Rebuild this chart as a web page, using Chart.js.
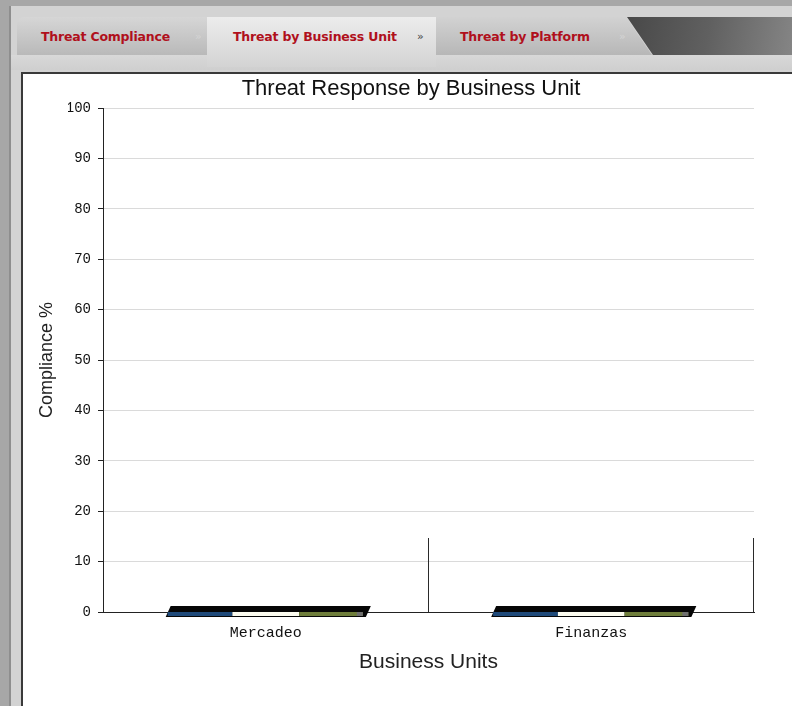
<!DOCTYPE html>
<html>
<head>
<meta charset="utf-8">
<script src="https://cdn.jsdelivr.net/npm/chart.js@4/dist/chart.umd.min.js"></script>
<style>
  html, body { margin: 0; padding: 0; }
  body { width: 792px; height: 706px; background: #a7a7a7; position: relative; overflow: hidden; font-family: "DejaVu Sans", sans-serif; }
  #frame { position: absolute; left: 9px; top: 6px; right: 0; bottom: 0; background: #d3d3d3; border-left: 2px solid #8e8e8e; }
  .tab { position: absolute; top: 11px; height: 38px; box-sizing: border-box; font-weight: bold; font-size: 12.5px; color: #b0101c; line-height: 40px; white-space: nowrap; letter-spacing: -0.2px; }
  .tab .chev { position: absolute; font-size: 11px; color: #d4d4d4; font-weight: normal; }
  #t1 { left: 6px; width: 190px; background: linear-gradient(#d6d6d6, #b9b9b9); border-top-left-radius: 7px; padding-left: 24px; }
  #t2 { left: 196px; width: 229px; height: 50px; background: linear-gradient(#ececec, #d3d3d3); padding-left: 26px; }
  #t3 { left: 425px; width: 216px; background: linear-gradient(#d2d2d2, #b7b7b7); padding-left: 24px; clip-path: polygon(0 0, 190px 0, 216px 100%, 0 100%); }
  #dark { position: absolute; left: 612px; top: 11px; right: 0; height: 38px; background: linear-gradient(100deg, #474747, #606060 50%, #858585); clip-path: polygon(4px 0, 100% 0, 100% 100%, 30px 100%); }
  #strip { position: absolute; left: 0; right: 0; top: 49px; height: 15px; background: linear-gradient(#d8d8d8, #cfcfcf); }
  #panel { position: absolute; left: 21px; top: 72px; width: 771px; height: 634px; background: #fff; border-left: 2px solid #3a3a3a; border-top: 2px solid #3a3a3a; box-sizing: border-box; }
  #wrap { position: absolute; left: 23px; top: 74px; width: 769px; height: 632px; }
</style>
</head>
<body>
<div id="frame">
  <div id="dark"></div>
  <div class="tab" id="t1">Threat Compliance<span class="chev" style="left:178px">»</span></div>
  <div class="tab" id="t3">Threat by Platform<span class="chev" style="left:183px">»</span></div>
  <div id="strip"></div>
  <div class="tab" id="t2">Threat by Business Unit<span class="chev" style="left:210px;color:#444">»</span></div>
</div>
<div id="panel"></div>
<div id="wrap"><canvas id="chart"></canvas></div>
<script>
// Compliance by business unit, one series per response state
const units      = ['Mercadeo', 'Finanzas'];
const seriesA    = [0, 0];
const seriesB    = [0, 0];
const seriesC    = [0, 0];
const yTicks     = [0, 10, 20, 30, 40, 50, 60, 70, 80, 90, 100];

const SLAB_COLORS = ['#1f4a7a', '#fbfbef', '#6e7d3a'];

// Flat 3D slabs under each bar group, plus the short separators between units
const slabPlugin = {
  id: 'slabs',
  afterDatasetsDraw(chart) {
    const ctx  = chart.ctx;
    const xs   = chart.scales.x;
    const base = chart.scales.y.getPixelForValue(0);
    const metas = chart.getSortedVisibleDatasetMetas();
    ctx.save();

    units.forEach((u, i) => {
      const bars  = metas.map(m => m.data[i]);
      const left  = Math.min(...bars.map(b => b.x - b.width / 2));
      const right = Math.max(...bars.map(b => b.x + b.width / 2));
      // top face + outline
      ctx.fillStyle = '#060606';
      ctx.beginPath();
      ctx.moveTo(left, base + 5);
      ctx.lineTo(left + 5, base - 6);
      ctx.lineTo(right + 5, base - 6);
      ctx.lineTo(right, base + 5);
      ctx.closePath();
      ctx.fill();
      // front faces
      bars.forEach((b, j) => {
        ctx.fillStyle = SLAB_COLORS[j];
        const l = b.x - b.width / 2 + (j === 0 ? 2 : 0);
        const r = b.x + b.width / 2 - (j === bars.length - 1 ? 3 : 0);
        ctx.fillRect(l, base, r - l, 4);
      });
      ctx.fillStyle = '#6f6f6f';
      ctx.fillRect(right - 9, base, 6, 4);

      // separator at the right edge of the unit
      const half = (xs.getPixelForValue(1) - xs.getPixelForValue(0)) / 2;
      const sx = Math.round(xs.getPixelForValue(i) + half) - 0.5;
      ctx.strokeStyle = '#2a2a2a';
      ctx.lineWidth = 1;
      ctx.beginPath();
      ctx.moveTo(sx, base);
      ctx.lineTo(sx, base - 74);
      ctx.stroke();
    });
    ctx.restore();
  }
};

new Chart(document.getElementById('chart'), {
  type: 'bar',
  data: {
    labels: units,
    datasets: [
      { label: 'A', data: seriesA, backgroundColor: SLAB_COLORS[0], borderWidth: 0 },
      { label: 'B', data: seriesB, backgroundColor: SLAB_COLORS[1], borderWidth: 0 },
      { label: 'C', data: seriesC, backgroundColor: SLAB_COLORS[2], borderWidth: 0 },
    ],
  },
  options: {
    responsive: true, maintainAspectRatio: false, animation: false,
    // left padding keeps the chart title centred on the whole panel
    layout: { padding: { top: 0, left: 45, right: 38, bottom: 31 } },
    datasets: { bar: { categoryPercentage: 0.615, barPercentage: 1 } },
    scales: {
      x: {
        afterFit: s => { s.height = 63; },
        grid: { display: false, drawTicks: false },
        border: { color: '#222', width: 1 },
        ticks: { color: '#111', padding: 12, font: { family: 'Liberation Mono', size: 15 } },
        title: { display: true, text: 'Business Units', color: '#222', padding: { top: 0, bottom: 0 },
                 font: { family: 'Liberation Sans', size: 21 } },
      },
      y: {
        min: 0, max: 100,
        afterFit: s => { s.width = 35; },
        afterBuildTicks: s => { s.ticks = yTicks.map(v => ({ value: v })); },
        grid: { color: '#dadada', tickColor: '#222', tickLength: 5 },
        border: { color: '#222', width: 1 },
        ticks: { color: '#111', padding: 7, font: { family: 'Liberation Mono', size: 14 } },
        title: { display: true, text: 'Compliance %', color: '#222', padding: { top: -32, bottom: 0 },
                 font: { family: 'Liberation Sans', size: 18 } },
      },
    },
    plugins: {
      legend: { display: false },
      tooltip: { enabled: false },
      title: {
        display: true, text: 'Threat Response by Business Unit', color: '#111',
        padding: { top: 2, bottom: 5.6 },
        font: { family: 'Liberation Sans', size: 22, weight: 'normal' },
      },
    },
  },
  plugins: [slabPlugin],
});
</script>
</body>
</html>
